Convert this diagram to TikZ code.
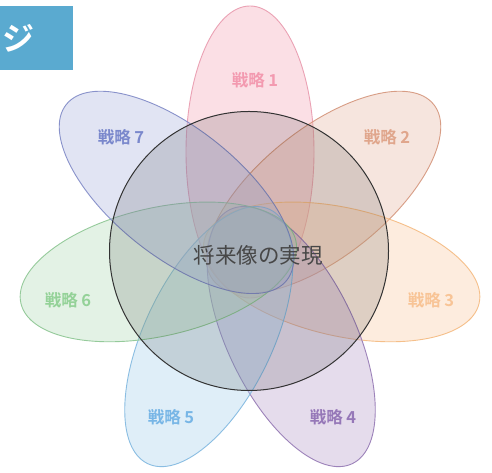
\documentclass[tikz,border=0pt]{standalone}
\usepackage{fontspec}
\setmainfont{Noto Sans CJK JP}
\newfontfamily\jpbold{Noto Sans CJK JP Bold}
\usetikzlibrary{shapes.geometric,calc}
\definecolor{c1}{HTML}{F4A7B9}
\definecolor{c1d}{HTML}{E99AAE}
\definecolor{c1t}{HTML}{F39AB0}
\definecolor{c2}{HTML}{E8B8A4}
\definecolor{c2d}{HTML}{D4947A}
\definecolor{c2t}{HTML}{E0A68C}
\definecolor{c3}{HTML}{FCCCA4}
\definecolor{c3d}{HTML}{F5BA80}
\definecolor{c3t}{HTML}{F8C496}
\definecolor{c4}{HTML}{B8A0CC}
\definecolor{c4d}{HTML}{9478B4}
\definecolor{c4t}{HTML}{9678B8}
\definecolor{c5}{HTML}{A8D0EE}
\definecolor{c5d}{HTML}{80B8E0}
\definecolor{c5t}{HTML}{78B6E6}
\definecolor{c6}{HTML}{B4DCB8}
\definecolor{c6d}{HTML}{8CC692}
\definecolor{c6t}{HTML}{94D298}
\definecolor{c7}{HTML}{AEB6E0}
\definecolor{c7d}{HTML}{7E88C6}
\definecolor{c7t}{HTML}{7A88CC}
\definecolor{boxblue}{HTML}{5AAAD0}
\tikzset{
  petal/.style={ellipse, minimum width=282pt, minimum height=128pt, inner sep=0pt, line width=0.9pt, fill opacity=0.36, draw opacity=0.9},
  bigpetal/.style={petal, minimum width=292pt},
  plabel/.style={font=\jpbold\fontsize{16.5}{16.5}\selectfont, inner sep=0pt},
}
\begin{document}
\begin{tikzpicture}[x=1pt,y=1pt]
\useasboundingbox (0,0) rectangle (492,473);
\fill[white] (0,0) rectangle (492,473);
\coordinate (O) at (250,222);
\node[bigpetal, draw=c1d, fill=c1, rotate=90] (p1) at ($(O)+(90:99pt)$) {};
\node[petal, draw=c2d, fill=c2, rotate=38.57] (p2) at ($(O)+(38.57:94pt)$) {};
\node[petal, draw=c3d, fill=c3, rotate=-12.86] (p3) at ($(O)+(-12.86:94pt)$) {};
\node[petal, draw=c4d, fill=c4, rotate=-64.29] (p4) at ($(O)+(-64.29:95pt)$) {};
\node[petal, draw=c5d, fill=c5, rotate=-115.71] (p5) at ($(O)+(-115.71:95pt)$) {};
\node[petal, draw=c6d, fill=c6, rotate=-167.14] (p6) at ($(O)+(-167.14:94pt)$) {};
\node[petal, draw=c7d, fill=c7, rotate=141.43] (p7) at ($(O)+(141.43:94pt)$) {};
\node[circle, minimum size=279pt, inner sep=0pt, draw=black!80, line width=1pt, fill=black, fill opacity=0.12, draw opacity=1] (core) at (249,222) {};
\node[plabel, text=c1t] (l1) at (255,393) {戦略 1};
\node[plabel, text=c2t] (l2) at (387,336) {戦略 2};
\node[plabel, text=c3t] (l3) at (431,173) {戦略 3};
\node[plabel, text=c4t] (l4) at (333,56) {戦略 4};
\node[plabel, text=c5t] (l5) at (171,56) {戦略 5};
\node[plabel, text=c6t] (l6) at (68,173) {戦略 6};
\node[plabel, text=c7t] (l7) at (121,336) {戦略 7};
\node[font=\fontsize{21.5}{21.5}\selectfont, text=black!72, inner sep=0pt] (title) at (258,218) {将来像の実現};
\fill[boxblue] (0,403) rectangle (73,467);
\node[font=\jpbold\fontsize{32}{32}\selectfont, text=white, inner sep=0pt] (tag) at (18,435) {ジ};
\end{tikzpicture}
\end{document}
